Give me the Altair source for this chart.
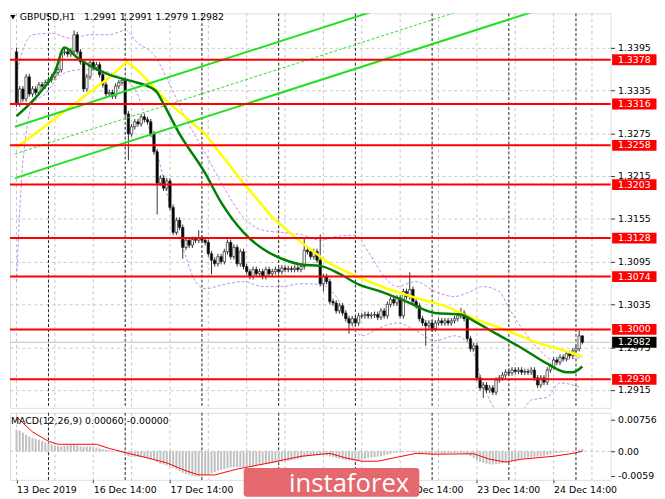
import altair as alt
import pandas as pd

# ---------------- data ----------------
# H1 closes, bar 0 = 13 Dec 14:00
close = [
    1.3316, 1.3337, 1.3323, 1.3354, 1.3330, 1.3337, 1.3332, 1.3343, 1.3341, 1.3346,
    1.3350, 1.3354, 1.3360, 1.3364, 1.3388, 1.3389, 1.3386, 1.3390, 1.3413, 1.3389,
    1.3375, 1.3337, 1.3354, 1.3374, 1.3367, 1.3371, 1.3357, 1.3343, 1.3330, 1.3332,
    1.3327, 1.3341, 1.3346, 1.3349, 1.3302, 1.3274, 1.3284, 1.3291, 1.3288, 1.3298,
    1.3294, 1.3291, 1.3274, 1.3249, 1.3205, 1.3212, 1.3198, 1.3208, 1.3171, 1.3136,
    1.3153, 1.3143, 1.3115, 1.3125, 1.3118, 1.3126, 1.3125, 1.3128, 1.3125, 1.3122,
    1.3106, 1.3097, 1.3092, 1.3102, 1.3095, 1.3109, 1.3122, 1.3102, 1.3115, 1.3092,
    1.3109, 1.3088, 1.3081, 1.3074, 1.3084, 1.3078, 1.3081, 1.3074, 1.3084, 1.3078,
    1.3081, 1.3084, 1.3081, 1.3086, 1.3084, 1.3085, 1.3084, 1.3086, 1.3084, 1.3088,
    1.3111, 1.3109, 1.3102, 1.3109, 1.3097, 1.3064, 1.3074, 1.3067, 1.3039, 1.3037,
    1.3026, 1.3033, 1.3023, 1.3015, 1.3009, 1.3015, 1.3009, 1.3019, 1.3019, 1.3021,
    1.3019, 1.3020, 1.3021, 1.3017, 1.3026, 1.3019, 1.3035, 1.3042, 1.3037, 1.3044,
    1.3019, 1.3053, 1.3046, 1.3056, 1.3039, 1.3033, 1.3015, 1.3009, 1.3005, 1.3009,
    1.3001, 1.3009, 1.3012, 1.3009, 1.3012, 1.3009, 1.3012, 1.3015, 1.3019, 1.3023,
    1.3015, 1.2987, 1.2973, 1.2977, 1.2932, 1.2918, 1.2922, 1.2915, 1.2918, 1.2912,
    1.2929, 1.2932, 1.2936, 1.2940, 1.2939, 1.2943, 1.2941, 1.2943, 1.2940, 1.2941,
    1.2940, 1.2943, 1.2932, 1.2922, 1.2932, 1.2926, 1.2943, 1.2948, 1.2957, 1.2954,
    1.2961, 1.2959, 1.2966, 1.2963, 1.2970, 1.2973, 1.2991, 1.2982,
]
first_open = 1.3389
high_read = {0: 1.3395, 18: 1.3419, 39: 1.3302, 57: 1.3139, 66: 1.3126, 90: 1.3129,
             95: 1.3133, 123: 1.3080, 139: 1.3030, 176: 1.2998, 177: 1.2991}
low_read = {35: 1.3237, 44: 1.3161, 52: 1.3099, 61: 1.3077, 96: 1.3053, 104: 1.2994,
            128: 1.2977, 146: 1.2904, 149: 1.2908, 163: 1.2918, 177: 1.2979}
wick = 0.0004

# moving averages (bar, price)
yellow_i = [0, 9, 19, 29, 34.5, 38, 43, 47, 59, 71, 80, 89, 98, 107, 116, 125, 134, 143, 152, 163, 173, 177]
yellow_p = [1.3255, 1.3285, 1.3319, 1.3353, 1.3375, 1.3363, 1.3339, 1.3320, 1.3274, 1.3205, 1.3157,
            1.3122, 1.3092, 1.3073, 1.3057, 1.3044, 1.3033, 1.3015, 1.3001, 1.2981, 1.2968, 1.2962]
green_i = [0, 5, 9, 12, 15, 19, 24, 29, 36, 41, 44, 46, 51, 59, 64, 71, 77, 83, 89, 95, 101, 107,
           114, 122, 131, 139, 143, 150, 158, 166, 172, 174, 177]
green_p = [1.3299, 1.3320, 1.3341, 1.3361, 1.3395, 1.3381, 1.3367, 1.3357, 1.3348, 1.3341, 1.3332,
           1.3316, 1.3274, 1.3219, 1.3178, 1.3136, 1.3113, 1.3099, 1.3091, 1.3089, 1.3078, 1.3063,
           1.3053, 1.3039, 1.3023, 1.3021, 1.3012, 1.2994, 1.2974, 1.2952, 1.2940, 1.2940, 1.2948]
# envelope bands (purple dashed)
upper_i = [0, 2, 5, 11, 17, 23, 29, 34, 38, 43, 48, 53, 59, 65, 71, 77, 83, 89, 95, 101, 106, 110,
           115, 119, 125, 131, 137, 142, 146, 151, 154, 158, 163, 168, 174, 177]
upper_p = [1.3357, 1.3392, 1.3413, 1.3415, 1.3408, 1.3413, 1.3413, 1.3419, 1.3401, 1.3385, 1.3343,
           1.3295, 1.3247, 1.3198, 1.3157, 1.3139, 1.3136, 1.3133, 1.3125, 1.3131, 1.3132, 1.3109,
           1.3074, 1.3060, 1.3067, 1.3053, 1.3046, 1.3053, 1.3060, 1.3053, 1.3030, 1.3002, 1.2974,
           1.2957, 1.2959, 1.2961]
lower_i = [0, 1.5, 3, 5, 9, 14, 20, 26, 32, 37, 41, 44, 47, 52, 56, 59, 65, 71, 77, 83, 89, 95, 100,
           104, 108, 113, 119, 125, 131, 137, 142, 145, 148, 152, 157, 161, 166, 170, 176]
lower_p = [1.3067, 1.3205, 1.3274, 1.3316, 1.3330, 1.3357, 1.3364, 1.3363, 1.3354, 1.3337, 1.3288,
           1.3247, 1.3191, 1.3115, 1.3067, 1.3057, 1.3063, 1.3067, 1.3060, 1.3060, 1.3064, 1.3063,
           1.3046, 1.3012, 1.2991, 1.3001, 1.3009, 1.2998, 1.2984, 1.2991, 1.2977, 1.2936, 1.2901,
           1.2880, 1.2880, 1.2901, 1.2905, 1.2925, 1.2919]

# trend channel (bar, price) endpoints
chan_i = [-0.5, 185]
chan_upper = [1.3284, 1.3552]
chan_mid = [1.3246, 1.3513]
chan_lower = [1.3212, 1.3479]

levels = [1.3378, 1.3316, 1.3258, 1.3203, 1.3128, 1.3074, 1.3000, 1.2930]
last_price = 1.2982
price_ticks = [1.3395, 1.3335, 1.3275, 1.3215, 1.3155, 1.3095, 1.3035, 1.2975, 1.2915]

# MACD main (gray histogram), one value per bar
macd = [
    0.0052, 0.0050, 0.0045, 0.0040, 0.0036, 0.0032, 0.0030, 0.0028, 0.0025, 0.0022, 0.0019, 0.0017,
    0.0014, 0.0013, 0.0012, 0.0013, 0.0014, 0.0015, 0.0015, 0.0014, 0.0012, 0.0011, 0.0012, 0.0012, 0.0011,
    0.0009, 0.0007, 0.0005, 0.0004, 0.0003,
    0.0001, -0.0001, -0.0002, -0.0003,
    -0.0008, -0.0012, -0.0013, -0.0013, -0.0014, -0.0014,
    -0.0016, -0.0018, -0.0020, -0.0022, -0.0026,
    -0.0030, -0.0032, -0.0034, -0.0036, -0.0040,
    -0.0044, -0.0048, -0.0052, -0.0055, -0.0057,
    -0.0060, -0.0061, -0.0060, -0.0059,
    -0.0057, -0.0055, -0.0053, -0.0050,
    -0.0047, -0.0045, -0.0043, -0.0041, -0.0039, -0.0038,
    -0.0038, -0.0038, -0.0038, -0.0037, -0.0036, -0.0035, -0.0034,
    -0.0033, -0.0032, -0.0031, -0.0030, -0.0029, -0.0028, -0.0027, -0.0026, -0.0025,
    -0.0023, -0.0022, -0.0020, -0.0019, -0.0017,
    -0.0014, -0.0012, -0.0011, -0.0010, -0.0009, -0.0008,
    -0.0009, -0.0010, -0.0012, -0.0014,
    -0.0016, -0.0018, -0.0020, -0.0021, -0.0022,
    -0.0022, -0.0022, -0.0021, -0.0020, -0.0018,
    -0.0016, -0.0015, -0.0014, -0.0013, -0.0012,
    -0.0010, -0.0008, -0.0006, -0.0004, -0.0003,
    -0.0003, -0.0002, -0.0002, -0.0001, -0.0002, -0.0003,
    -0.0004, -0.0005, -0.0006, -0.0006, -0.0006, -0.0006,
    -0.0005, -0.0005, -0.0005, -0.0004, -0.0004, -0.0004, -0.0004, -0.0004, -0.0005,
    -0.0008, -0.0012, -0.0016, -0.0021, -0.0025,
    -0.0028, -0.0030, -0.0031, -0.0032, -0.0031,
    -0.0030, -0.0029, -0.0027, -0.0025, -0.0023,
    -0.0021, -0.0019, -0.0018, -0.0016, -0.0015,
    -0.0014, -0.0013, -0.0013, -0.0012, -0.0011,
    -0.0009, -0.0007, -0.0005, -0.0004, -0.0003,
    -0.0002, -0.0001, 0.0000, 0.0001, 0.0002, 0.0004, 0.0006,
]
signal_i = [0, 5, 10, 13, 25, 29, 35, 41, 47, 53, 57, 62, 69, 79, 89, 98, 103, 108, 113, 118, 125,
            131, 143, 148, 153, 158, 168, 174, 177]
signal_v = [0.0083, 0.0047, 0.0024, 0.0017, 0.0017, 0.0007, -0.0005, -0.0016, -0.0028, -0.0047,
            -0.0057, -0.0057, -0.0043, -0.0028, -0.0012, -0.0005, -0.0016, -0.0024, -0.0024, -0.0016,
            -0.0005, -0.0007, -0.0006, -0.0019, -0.0026, -0.0019, -0.0012, -0.0005, 0.0000]

time_tick_i = [0, 24, 48, 72, 96, 120, 144, 168]
time_tick_txt = ["13 Dec 2019", "16 Dec 14:00", "17 Dec 14:00", "18 Dec 14:00",
                 "19 Dec 14:00", "20 Dec 14:00", "23 Dec 14:00", "24 Dec 14:00"]
grid_i = list(range(0, 181, 12))
day_sep_i = [10, 34, 58, 82, 106, 130, 154, 175]

title_txt = "GBPUSD,H1\u00a0\u00a0 1.2991 1.2991 1.2979 1.2982"
macd_txt = "MACD(12,26,9) 0.00060 -0.00000"

assert len(close) == 178 and len(macd) == 178

# ---------------- tables ----------------
rows = []
prev = first_open
for i, c in enumerate(close):
    o = prev
    h = high_read.get(i, max(o, c) + wick)
    lo = low_read.get(i, min(o, c) - wick)
    rows.append(dict(i=i, open=o, close=c, high=h, low=lo, up=bool(c >= o)))
    prev = c
candles = pd.DataFrame(rows)
macd_df = pd.DataFrame({"i": list(range(len(macd))), "v": macd})
sig_df = pd.DataFrame({"i": signal_i, "v": signal_v})
yellow_df = pd.DataFrame({"i": yellow_i, "p": yellow_p})
green_df = pd.DataFrame({"i": green_i, "p": green_p})
up_df = pd.DataFrame({"i": upper_i, "p": upper_p})
lo_df = pd.DataFrame({"i": lower_i, "p": lower_p})
chan_df = pd.DataFrame({"i": chan_i * 3, "p": chan_upper + chan_mid + chan_lower,
                        "k": ["a"] * 2 + ["m"] * 2 + ["b"] * 2})
lev_df = pd.DataFrame({"p": levels, "t": [f"{v:.4f}" for v in levels]})
last_df = pd.DataFrame({"p": [last_price], "t": [f"{last_price:.4f}"]})
grid_df = pd.DataFrame({"i": grid_i})
sep_df = pd.DataFrame({"i": day_sep_i})
one = pd.DataFrame({"t": [title_txt], "m": [macd_txt], "w": ["instaforex"]})

FONT = "DejaVu Sans"
FS = 9.5
xs = alt.Scale(domain=[-0.5, 184.3], nice=False, zero=False)
ys = alt.Scale(domain=[1.2890, 1.3443], nice=False, zero=False)
ms = alt.Scale(domain=[-0.0069, 0.0093], nice=False, zero=False)

YA = alt.Axis(orient="right", values=price_ticks, format=".4f", title=None, grid=True,
              gridColor="#c8c8c8", gridDash=[3, 3], gridWidth=1, domain=False, tickSize=4,
              tickColor="#333", labelFont=FONT, labelFontSize=FS, labelColor="#000", labelPadding=3)
MA = alt.Axis(orient="right", values=[0.00756, 0.0, -0.0059], title=None, grid=False, domain=False,
              tickSize=4, tickColor="#333", labelFont=FONT, labelFontSize=FS, labelColor="#000",
              labelPadding=3,
              labelExpr="datum.value > 0.005 ? '0.00756' : (datum.value < -0.005 ? '-0.0059' : '0.00')")
lab_expr = " : ".join(f"datum.value == {k} ? '{t}'" for k, t in zip(time_tick_i, time_tick_txt)) + " : ''"
XA = alt.Axis(values=time_tick_i, title=None, grid=False, domain=False, tickSize=3, tickColor="#333",
              labelAlign="left", labelFont=FONT, labelFontSize=FS, labelColor="#000", labelPadding=2,
              labelOverlap=False, labelFlush=False, labelExpr=lab_expr)

def X(f="i:Q", axis=None):
    return alt.X(f, scale=xs, axis=axis)

def Y(f):
    return alt.Y(f, scale=ys, axis=YA)

W, H1, H2 = 609, 400, 68

vgrid = alt.Chart(grid_df).mark_rule(color="#c4c4c4", strokeDash=[3, 3], strokeWidth=1).encode(x=X())
vsep = alt.Chart(sep_df).mark_rule(color="#222", strokeDash=[3, 2], strokeWidth=1).encode(x=X())

band_u = alt.Chart(up_df).mark_line(color="#c58be8", strokeDash=[3, 2], strokeWidth=1, clip=True,
                                    interpolate="monotone").encode(x=X(), y=Y("p:Q"))
band_l = alt.Chart(lo_df).mark_line(color="#c58be8", strokeDash=[3, 2], strokeWidth=1, clip=True,
                                    interpolate="monotone").encode(x=X(), y=Y("p:Q"))
last_rule = alt.Chart(last_df).mark_rule(color="#c0c0c0", strokeWidth=1).encode(y=Y("p:Q"))
wicks = alt.Chart(candles).mark_rule(color="#333", strokeWidth=1).encode(
    x=X(), y=Y("low:Q"), y2="high:Q")
bodies = alt.Chart(candles).mark_bar(size=2.4, stroke="#222", strokeWidth=0.7).encode(
    x=X(), y=Y("open:Q"), y2="close:Q",
    fill=alt.condition("datum.up", alt.value("#ffffff"), alt.value("#000000")))
yel = alt.Chart(yellow_df).mark_line(color="#ffff00", strokeWidth=2.5).encode(x=X(), y=Y("p:Q"))
grn = alt.Chart(green_df).mark_line(color="#008000", strokeWidth=2.5, interpolate="monotone").encode(
    x=X(), y=Y("p:Q"))
chan_solid = alt.Chart(chan_df).transform_filter("datum.k != 'm'").mark_line(
    color="#22e022", strokeWidth=2, clip=True).encode(x=X(), y=Y("p:Q"), detail="k:N")
chan_dash = alt.Chart(chan_df).transform_filter("datum.k == 'm'").mark_line(
    color="#22e022", strokeWidth=1, strokeDash=[3, 2], clip=True).encode(x=X(), y=Y("p:Q"))
lev_rules = alt.Chart(lev_df).mark_rule(color="#ff0000", strokeWidth=2).encode(y=Y("p:Q"))
lev_box = alt.Chart(lev_df).mark_tick(orient="horizontal", thickness=11, size=45, color="#ff0000",
                                      opacity=1).encode(x=alt.value(633), y=Y("p:Q"))
lev_txt = alt.Chart(lev_df).mark_text(font=FONT, fontSize=FS, color="#ffffff", align="center",
                                      baseline="middle").encode(x=alt.value(633), y=Y("p:Q"), text="t:N")
last_box = alt.Chart(last_df).mark_tick(orient="horizontal", thickness=11, size=45, color="#000000",
                                        opacity=1).encode(x=alt.value(633), y=Y("p:Q"))
last_txt = alt.Chart(last_df).mark_text(font=FONT, fontSize=FS, color="#ffffff", align="center",
                                        baseline="middle").encode(x=alt.value(633), y=Y("p:Q"), text="t:N")
tri = alt.Chart(one).mark_point(shape="triangle-down", filled=True, color="#000", size=28, opacity=1).encode(
    x=alt.value(3), y=alt.value(4))
title = alt.Chart(one).mark_text(font=FONT, fontSize=FS, color="#000", align="left",
                                 baseline="middle").encode(x=alt.value(10), y=alt.value(4), text="t:N")

main = alt.layer(vgrid, vsep, band_u, band_l, last_rule, wicks, bodies, yel, grn, chan_solid, chan_dash,
                 lev_rules, lev_box, lev_txt, last_box, last_txt, tri, title).properties(width=W, height=H1)

mvgrid = alt.Chart(grid_df).mark_rule(color="#c4c4c4", strokeDash=[3, 3], strokeWidth=1).encode(x=X(axis=XA))
mvsep = alt.Chart(sep_df).mark_rule(color="#222", strokeDash=[3, 2], strokeWidth=1).encode(x=X(axis=XA))
zero = alt.Chart(one).mark_rule(color="#c4c4c4", strokeDash=[3, 3]).encode(
    y=alt.Y("z:Q", scale=ms, axis=MA)).transform_calculate(z="0")
hist = alt.Chart(macd_df).mark_bar(size=2, color="#c0c0c0").encode(
    x=X(axis=XA), y=alt.Y("v:Q", scale=ms, axis=MA), y2=alt.datum(0))
sig = alt.Chart(sig_df).mark_line(color="#ff0000", strokeWidth=1).encode(
    x=X(axis=XA), y=alt.Y("v:Q", scale=ms, axis=MA))
mlabel = alt.Chart(one).mark_text(font=FONT, fontSize=FS, color="#000", align="left",
                                  baseline="middle").encode(x=alt.value(1), y=alt.value(8), text="m:N")
wm_box = alt.Chart(one).mark_rect(color="#e4686e", cornerRadius=3).encode(
    x=alt.value(237), x2=alt.value(415), y=alt.value(56), y2=alt.value(85))
wm_txt = alt.Chart(one).mark_text(font="Open Sans", fontSize=26, color="#ffffff", align="left",
                                  baseline="alphabetic").encode(x=alt.value(283), y=alt.value(80), text="w:N")

macd_panel = alt.layer(mvgrid, mvsep, zero, hist, sig, mlabel, wm_box, wm_txt).properties(width=W, height=H2)

chart = alt.vconcat(main, macd_panel, spacing=3).properties(
    padding={"left": 0, "top": 0, "right": 0, "bottom": 0}
).configure_view(stroke="#555", strokeWidth=1).configure(background="#ffffff")

chart.save("out.html", embed_options={"renderer": "svg", "actions": False})
